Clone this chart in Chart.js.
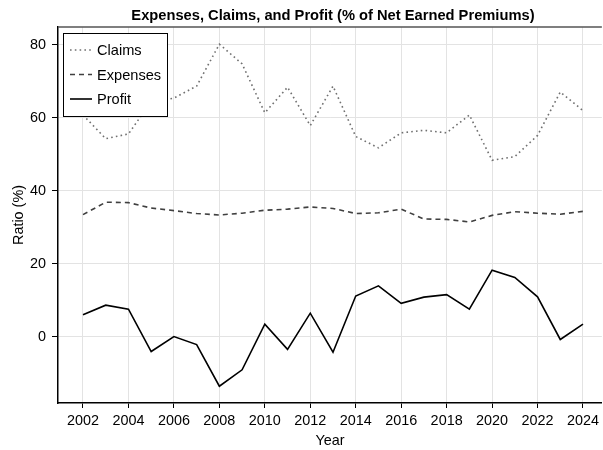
<!DOCTYPE html>
<html>
<head>
<meta charset="utf-8">
<script src="https://cdn.jsdelivr.net/npm/chart.js@4"></script>
<style>
  html, body { margin: 0; padding: 0; background: #fff; }
  #wrap { width: 603px; height: 450px; }
</style>
</head>
<body>
<div id="wrap"><canvas id="ratios"></canvas></div>
<script>
const years = [2002, 2003, 2004, 2005, 2006, 2007, 2008, 2009, 2010, 2011, 2012,
  2013, 2014, 2015, 2016, 2017, 2018, 2019, 2020, 2021, 2022, 2023, 2024];
const claims = [60.8, 54.3, 55.6, 64.5, 65.4, 68.7, 80.2, 74.8, 61.4, 68.4, 57.9,
  68.7, 54.9, 51.8, 55.9, 56.6, 55.9, 60.8, 48.4, 49.4, 55.2, 67.1, 62.0];
const expenses = [33.5, 36.9, 36.8, 35.3, 34.6, 33.8, 33.4, 33.9, 34.7, 35.0, 35.6,
  35.2, 33.8, 34.0, 35.0, 32.3, 32.2, 31.5, 33.3, 34.3, 33.9, 33.6, 34.4];
const profit = [6.1, 8.7, 7.6, -4.0, 0.1, -2.1, -13.5, -9.0, 3.5, -3.4, 6.5,
  -4.2, 11.2, 14.0, 9.2, 10.9, 11.6, 7.6, 18.3, 16.3, 11.0, -0.7, 3.5];
const xTicks = [2002, 2004, 2006, 2008, 2010, 2012, 2014, 2016, 2018, 2020, 2022, 2024];
const yTicks = [0, 20, 40, 60, 80];

const fontFamily = '"Liberation Sans", Arial, sans-serif';
const gridColor = '#e3e3e3';

Chart.defaults.font.family = fontFamily;
Chart.defaults.color = '#000';

const toPoints = values => values.map((v, i) => ({ x: years[i], y: v }));

// title, top frame line and the boxed legend
const decorations = {
  id: 'decorations',
  afterDraw(chart) {
    const { ctx, chartArea } = chart;
    ctx.save();

    ctx.strokeStyle = '#555';
    ctx.lineWidth = 1.5;
    ctx.beginPath();
    ctx.moveTo(chartArea.left, chartArea.top);
    ctx.lineTo(chartArea.right, chartArea.top);
    ctx.stroke();

    ctx.fillStyle = '#000';
    ctx.font = 'bold 14.7px ' + fontFamily;
    ctx.textAlign = 'center';
    ctx.textBaseline = 'middle';
    ctx.fillText('Expenses, Claims, and Profit (% of Net Earned Premiums)',
      (chartArea.left + chartArea.right) / 2 + 3, 15.5);

    // legend
    const bx = 63.5, by = 33.5, bw = 104, bh = 83;
    ctx.fillStyle = '#fff';
    ctx.fillRect(bx, by, bw, bh);
    ctx.strokeStyle = '#000';
    ctx.lineWidth = 1;
    ctx.strokeRect(bx, by, bw, bh);
    ctx.font = '14.6px ' + fontFamily;
    ctx.textAlign = 'left';
    chart.data.datasets.forEach((ds, i) => {
      const ly = 50 + i * 24.5;
      ctx.strokeStyle = ds.borderColor;
      ctx.lineWidth = ds.borderWidth;
      ctx.setLineDash(ds.borderDash || []);
      ctx.beginPath();
      ctx.moveTo(70, ly);
      ctx.lineTo(92, ly);
      ctx.stroke();
      ctx.setLineDash([]);
      ctx.fillStyle = '#000';
      ctx.fillText(ds.label, 97, ly + 1);
    });
    ctx.restore();
  }
};

new Chart(document.getElementById('ratios'), {
  type: 'line',
  data: {
    datasets: [
      {
        label: 'Claims',
        data: toPoints(claims),
        borderColor: '#707070',
        borderWidth: 1.6,
        borderDash: [1.6, 3.2]
      },
      {
        label: 'Expenses',
        data: toPoints(expenses),
        borderColor: '#404040',
        borderWidth: 1.6,
        borderDash: [5, 4]
      },
      {
        label: 'Profit',
        data: toPoints(profit),
        borderColor: '#000',
        borderWidth: 1.6
      }
    ]
  },
  options: {
    responsive: true,
    maintainAspectRatio: false,
    animation: false,
    layout: { padding: { top: 27, left: 0, right: 0, bottom: 0 } },
    elements: {
      point: { radius: 0 },
      line: { tension: 0 }
    },
    plugins: {
      legend: { display: false },
      title: { display: false },
      tooltip: { enabled: false }
    },
    scales: {
      x: {
        type: 'linear',
        min: 2000.9,
        max: 2024.83,
        afterBuildTicks: scale => { scale.ticks = xTicks.map(v => ({ value: v })); },
        afterFit: scale => { scale.height = 47; },
        grid: { color: gridColor, tickColor: '#000', tickLength: 5 },
        border: { color: '#000', width: 1.5 },
        ticks: {
          font: { size: 14.4 },
          padding: 4,
          maxRotation: 0,
          callback: v => String(v)
        },
        title: {
          display: true,
          text: 'Year',
          font: { size: 14.4 },
          padding: { top: 0, bottom: 0 }
        }
      },
      y: {
        min: -18.1,
        max: 84.9,
        afterBuildTicks: scale => { scale.ticks = yTicks.map(v => ({ value: v })); },
        afterFit: scale => { scale.width = 58; },
        grid: { color: gridColor, tickColor: '#000', tickLength: 6 },
        border: { color: '#000', width: 1.5 },
        ticks: { font: { size: 14.4 }, padding: 6 },
        title: {
          display: true,
          text: 'Ratio (%)',
          font: { size: 14.4 },
          padding: { top: 10, bottom: 0 }
        }
      }
    }
  },
  plugins: [decorations]
});
</script>
</body>
</html>
